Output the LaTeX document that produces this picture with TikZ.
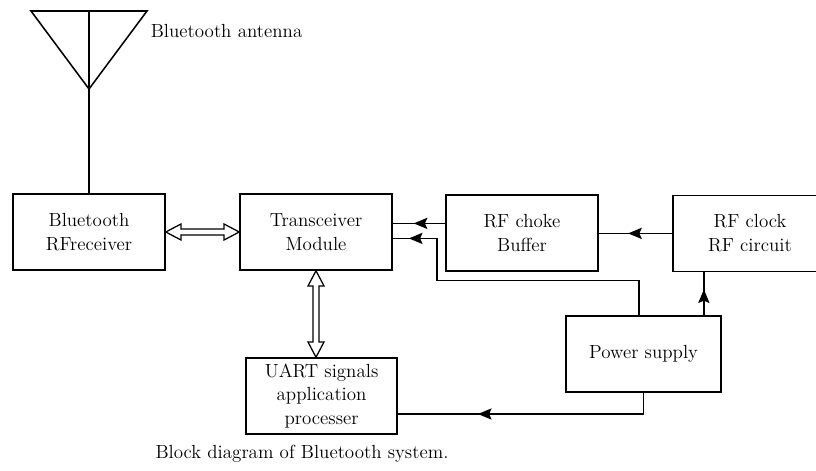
\documentclass[tikz,border=0pt]{standalone}
\usetikzlibrary{arrows.meta,positioning,decorations.markings}

\begin{document}
\begin{tikzpicture}[line width=1.1pt,
            every node/.style={font=\fontsize{13.5}{17}\selectfont},
            blok/.style={draw, rectangle, minimum height=1.9cm, minimum width=3.8cm, align=center, inner sep=2pt},
            dblarrow/.style={line width=0.9pt, line join=miter},
            midarrow/.style={postaction={decorate}, decoration={markings, mark=at position #1 with {\arrow{Stealth[length=3.4mm,width=2.8mm,inset=0.6mm]}}}}]

            \useasboundingbox (0,0) rectangle (20.4,11.775);

            % Bloques
            \node[blok] (rx) at (2.225,5.975) {Bluetooth\\RFreceiver};
            \node[blok] (trx) at (7.9,5.975) {Transceiver\\Module};
            \node[blok] (choke) at (13.05,5.95) {RF choke\\Buffer};
            \node[blok, minimum width=3.85cm] (clock) at (18.75,5.94) {RF clock\\RF circuit};
            \node[blok, minimum width=3.875cm] (power) at (16.09,2.925) {Power supply};
            \node[blok, minimum width=3.775cm] (uart) at (8.04,1.875) {UART signals\\application\\processer};

            % Antena
            \coordinate (anttop) at (rx.north |- 0,11.5);
            \coordinate (apex) at (rx.north |- 0,9.55);
            \draw ([xshift=-1.45cm]anttop) -- ([xshift=1.45cm]anttop) -- (apex) -- cycle;
            \draw (anttop) -- (rx.north);
            \node[anchor=west, inner sep=0pt] (antlabel) at (3.75,11.0) {Bluetooth antenna};

            % Flechas dobles
            \coordinate (uarttop) at (trx.south |- uart.north);
            \draw[dblarrow] (rx.east) -- ++(0.38,0.2) -- ++(0,-0.125) -- ([xshift=-0.38cm,yshift=0.075cm]trx.west)
                -- ++(0,0.125) -- (trx.west) -- ++(-0.38,-0.2) -- ++(0,0.125)
                -- ([xshift=0.38cm,yshift=-0.075cm]rx.east) -- ++(0,-0.125) -- cycle;
            \draw[dblarrow] (trx.south) -- ++(0.2,-0.38) -- ++(-0.125,0) -- ([xshift=0.075cm,yshift=0.38cm]uarttop)
                -- ++(0.125,0) -- (uarttop) -- ++(-0.2,0.38) -- ++(0.125,0)
                -- ([xshift=-0.075cm,yshift=-0.38cm]trx.south) -- ++(-0.125,0) -- cycle;

            % Flechas
            \draw[midarrow=0.6] ([yshift=0.24cm]choke.west) -- ([yshift=0.24cm]choke.west -| trx.east);
            \draw[midarrow=0.6] (clock.west) -- (clock.west -| choke.east);
            \draw[midarrow=0.6] ([xshift=-0.45cm]power.north east) -- ([xshift=-0.45cm]power.north east |- clock.south);
            \draw[midarrow=0.95] ([xshift=-0.12cm]power.north) |- ([yshift=-0.22cm]choke.south west) -- ++(-0.2,0)
                |- ([yshift=-0.16cm]trx.east);
            \draw[midarrow=0.7] (power.south) |- ([yshift=-0.45cm]uart.east);

            % Pie
            \node (caption) at (7.55,0.42) {Block diagram of Bluetooth system.};

        \end{tikzpicture}
\end{document}
